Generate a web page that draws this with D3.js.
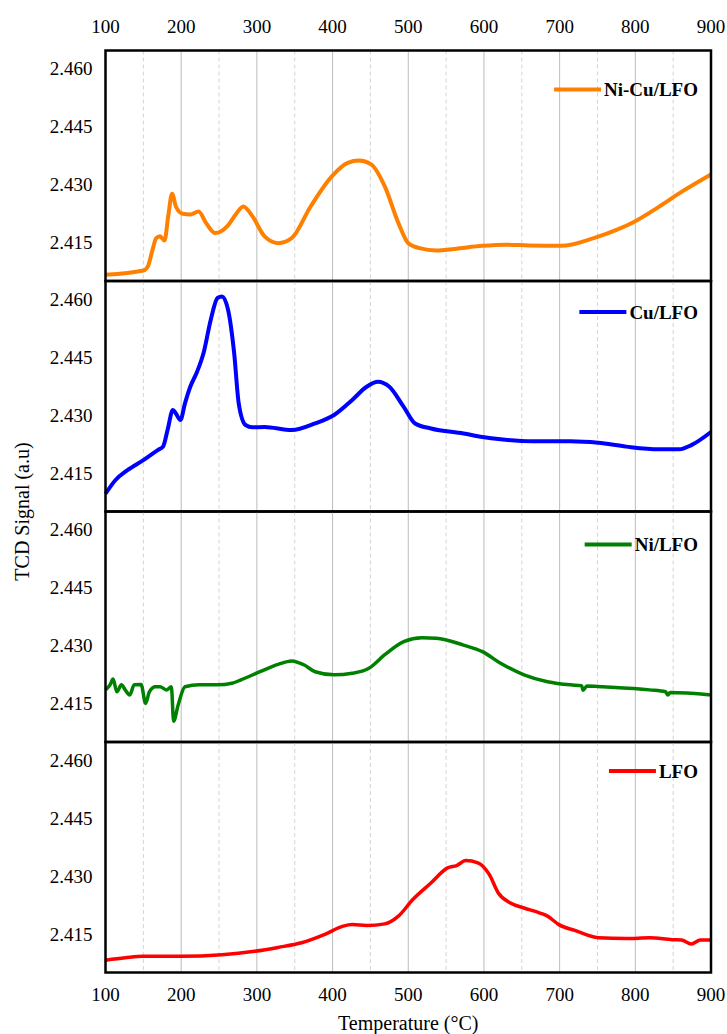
<!DOCTYPE html>
<html>
<head>
<meta charset="utf-8">
<script src="https://cdn.jsdelivr.net/npm/d3@7"></script>
<style>
  body { margin: 0; background: #fff; }
  text { font-family: "Times New Roman", "Liberation Serif", serif; fill: #000; }
</style>
</head>
<body>
<svg id="chart" width="727" height="1034"></svg>
<script>
// data (temperature in °C, TCD signal)
var xTicks = [100, 200, 300, 400, 500, 600, 700, 800, 900];
var xMinor = [150, 250, 350, 450, 550, 650, 750, 850];
var yTicks = [2.415, 2.430, 2.445, 2.460];

var seriesNames = ["Ni-Cu/LFO", "Cu/LFO", "Ni/LFO", "LFO"];
var seriesColors = ["#ff8000", "#0000ff", "#008000", "#ff0000"];

var niCuT = [100, 150, 156, 162, 167, 172, 178, 183, 188, 193, 202, 212, 223, 233, 245, 261, 272, 282, 294, 310, 328, 346, 371, 399, 420, 435, 451, 469, 487, 500, 515, 537, 561, 598, 628, 659, 702, 745, 776, 800, 831, 862, 900];
var niCuV = [2.4066, 2.4077, 2.4088, 2.4130, 2.4161, 2.4166, 2.4155, 2.4220, 2.4276, 2.4243, 2.4224, 2.4222, 2.4230, 2.4200, 2.4174, 2.4192, 2.4222, 2.4243, 2.4218, 2.4166, 2.4148, 2.4161, 2.4243, 2.4321, 2.4356, 2.4362, 2.4352, 2.4295, 2.4200, 2.4148, 2.4135, 2.4129, 2.4133, 2.4141, 2.4144, 2.4142, 2.4141, 2.4161, 2.4183, 2.4205, 2.4242, 2.4282, 2.4326];

var cuT = [100, 113, 129, 150, 169, 176, 182, 189, 193, 199, 205, 212, 221, 230, 239, 248, 254, 262, 270, 276, 285, 294, 310, 346, 377, 402, 426, 445, 460, 475, 494, 509, 530, 573, 598, 622, 665, 714, 751, 788, 831, 858, 874, 900];
var cuV = [2.4096, 2.4131, 2.4157, 2.4183, 2.4209, 2.4218, 2.4261, 2.4313, 2.4304, 2.4287, 2.4330, 2.4373, 2.4412, 2.4464, 2.4546, 2.4603, 2.4607, 2.4572, 2.4460, 2.4330, 2.4274, 2.4268, 2.4269, 2.4261, 2.4278, 2.4300, 2.4339, 2.4373, 2.4386, 2.4373, 2.4321, 2.4278, 2.4265, 2.4252, 2.4243, 2.4237, 2.4232, 2.4232, 2.4228, 2.4218, 2.4211, 2.4211, 2.4222, 2.4256];

var niT = [100, 106, 110, 115, 121, 126, 132, 138, 147, 153, 158, 166, 172, 181, 187, 190, 196, 205, 224, 248, 267, 279, 304, 328, 346, 362, 377, 402, 426, 448, 469, 494, 518, 537, 573, 598, 622, 653, 684, 714, 729, 731, 736, 757, 819, 840, 843, 846, 900];
var niV = [2.4185, 2.4198, 2.4213, 2.4180, 2.4198, 2.4185, 2.4172, 2.4198, 2.4199, 2.4150, 2.4180, 2.4193, 2.4193, 2.4185, 2.4193, 2.4104, 2.4146, 2.4193, 2.4198, 2.4198, 2.4202, 2.4211, 2.4232, 2.4251, 2.4260, 2.4250, 2.4232, 2.4224, 2.4228, 2.4241, 2.4276, 2.4310, 2.4320, 2.4319, 2.4301, 2.4284, 2.4254, 2.4224, 2.4206, 2.4198, 2.4196, 2.4184, 2.4195, 2.4193, 2.4185, 2.4180, 2.4172, 2.4178, 2.4172];

var lfoT = [100, 126, 150, 199, 254, 297, 328, 359, 389, 414, 426, 445, 469, 487, 506, 530, 552, 564, 576, 592, 607, 619, 635, 653, 674, 684, 699, 720, 751, 788, 819, 849, 861, 874, 886, 900];
var lfoV = [2.4082, 2.4088, 2.4092, 2.4092, 2.4096, 2.4105, 2.4115, 2.4127, 2.4148, 2.4170, 2.4174, 2.4172, 2.4176, 2.4196, 2.4239, 2.4282, 2.4321, 2.4327, 2.4340, 2.4334, 2.4304, 2.4256, 2.4230, 2.4217, 2.4204, 2.4196, 2.4174, 2.4159, 2.4140, 2.4138, 2.4140, 2.4135, 2.4134, 2.4124, 2.4134, 2.4134];

var seriesT = [niCuT, cuT, niT, lfoT];
var seriesV = [niCuV, cuV, niV, lfoV];

// layout
var svg = d3.select("#chart");
var plotL = 105.5, plotR = 711, plotT = 50.5, panelH = 230.5;
var legendDy = [39, 31, 33, 29];
var lineW = [4, 4, 3.5, 3.5];

var x = d3.scaleLinear().domain([100, 900]).range([plotL, plotR]);
var y = d3.scaleLinear().domain([2.405, 2.4647]).range([panelH, 0]);

for (var i = 0; i < 4; i++) {
	var g = svg.append("g").attr("transform", "translate(0," + (plotT + i * panelH) + ")");

	// grid
	g.selectAll(".minor").data(xMinor).enter().append("line")
	 .attr("x1", function(d) { return x(d); }).attr("x2", function(d) { return x(d); })
	 .attr("y1", 0).attr("y2", panelH)
	 .attr("stroke", "#d4d4d4").attr("stroke-width", 1).attr("stroke-dasharray", "4,3");
	g.selectAll(".major").data(xTicks.slice(1, -1)).enter().append("line")
	 .attr("x1", function(d) { return x(d); }).attr("x2", function(d) { return x(d); })
	 .attr("y1", 0).attr("y2", panelH)
	 .attr("stroke", "#bcbcbc").attr("stroke-width", 1);

	// y tick labels
	g.selectAll(".ylab").data(yTicks).enter().append("text")
	 .attr("x", plotL - 13).attr("y", function(d) { return y(d); })
	 .attr("dy", "0.35em").attr("text-anchor", "end")
	 .style("font-size", "19px")
	 .text(function(d) { return d3.format(".3f")(d); });

	// curve
	var pts = d3.zip(seriesT[i], seriesV[i]);
	var line = d3.line()
	             .x(function(d) { return x(d[0]); })
	             .y(function(d) { return y(d[1]); })
	             .curve(d3.curveMonotoneX);
	g.append("path").datum(pts)
	 .attr("d", line).attr("fill", "none")
	 .attr("stroke", seriesColors[i]).attr("stroke-width", lineW[i])
	 .attr("stroke-linejoin", "round");

	// legend
	var ly = legendDy[i];
	var lab = g.append("text")
	 .attr("x", 698).attr("y", ly).attr("dy", "0.35em")
	 .attr("text-anchor", "end")
	 .style("font-size", "19px").style("font-weight", "bold")
	 .text(seriesNames[i]);
	var tw = lab.node().getComputedTextLength();
	g.append("line")
	 .attr("x1", 698 - tw - 50).attr("x2", 698 - tw - 3)
	 .attr("y1", ly).attr("y2", ly)
	 .attr("stroke", seriesColors[i]).attr("stroke-width", 4);

	// frame
	g.append("rect")
	 .attr("x", plotL).attr("y", 0).attr("width", plotR - plotL).attr("height", panelH)
	 .attr("fill", "none").attr("stroke", "#000").attr("stroke-width", 2.5);
}

// x tick labels top and bottom
var plotB = plotT + 4 * panelH;
svg.selectAll(".xtop").data(xTicks).enter().append("text")
   .attr("x", function(d) { return x(d); }).attr("y", 26).attr("dy", "0.35em")
   .attr("text-anchor", "middle").style("font-size", "19px")
   .text(function(d) { return d; });
svg.selectAll(".xbot").data(xTicks).enter().append("text")
   .attr("x", function(d) { return x(d); }).attr("y", plotB + 22).attr("dy", "0.35em")
   .attr("text-anchor", "middle").style("font-size", "19px")
   .text(function(d) { return d; });

// axis titles
svg.append("text")
   .attr("x", (plotL + plotR) / 2).attr("y", plotB + 50).attr("dy", "0.35em")
   .attr("text-anchor", "middle").style("font-size", "20px")
   .text("Temperature (°C)");
svg.append("text")
   .attr("transform", "translate(22," + (plotT + 2 * panelH) + ") rotate(-90)")
   .attr("dy", "0.35em").attr("text-anchor", "middle").style("font-size", "20px")
   .text("TCD Signal (a.u)");
</script>
</body>
</html>
